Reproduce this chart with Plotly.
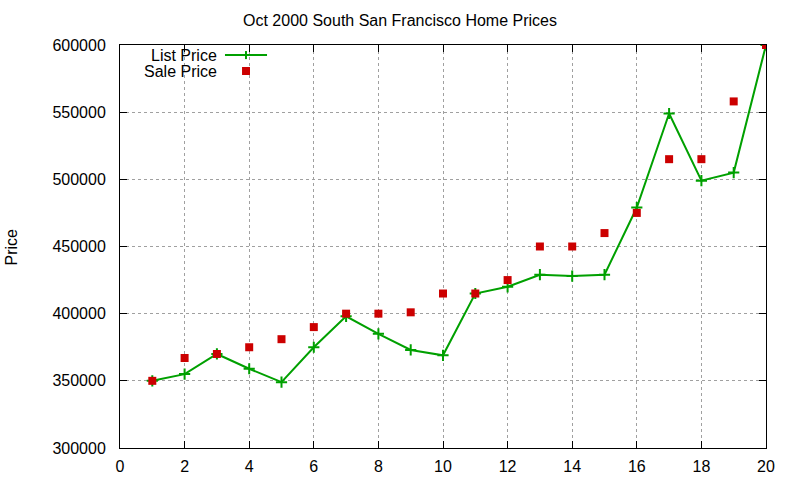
"""Oct 2000 South San Francisco home prices, list vs sale (gnuplot look)."""

import plotly.graph_objects as go

# # Data
# -----------------------------------------------------|
house = list(range(1, 21))
list_price = [350000, 355000, 370000, 359000, 349000, 375000, 398000,
              385000, 373000, 369000, 415000, 420000, 429000, 428000,
              429000, 479000, 549000, 499000, 505000, 600000]
sale_price = [350000, 367000, 370000, 375000, 381000, 390000, 400000,
              400000, 401000, 415000, 415000, 425000, 450000, 450000,
              460000, 475000, 515000, 515000, 558000, 600000]
x_ticks = list(range(0, 21, 2))
y_ticks = list(range(300000, 600001, 50000))

GREEN = "#00a000"
RED = "#cc0000"
FONT = "Liberation Sans, Arial, sans-serif"

# # Figure
# -----------------------------------------------------|
fig = go.Figure()
fig.add_trace(go.Scatter(
    x=house, y=list_price, mode="lines+markers", name="List Price",
    line=dict(color=GREEN, width=2),
    marker=dict(symbol="cross-thin", size=8,
                line=dict(color=GREEN, width=2)),
    showlegend=False,
))
fig.add_trace(go.Scatter(
    x=house, y=sale_price, mode="markers", name="Sale Price",
    marker=dict(symbol="square", size=8, color=RED),
    showlegend=False,
))

axis_common = dict(
    showline=True, linecolor="black", linewidth=1, mirror="allticks",
    ticks="inside", ticklen=7, tickcolor="black", automargin=False,
    showgrid=True, gridcolor="#a0a0a0", griddash="dot", gridwidth=1,
    zeroline=False, tickfont=dict(size=16, color="black", family=FONT),
)
fig.update_xaxes(range=[0, 20], tickvals=x_ticks, ticklabelstandoff=4,
                 **axis_common)
fig.update_yaxes(range=[300000, 600000], tickvals=y_ticks,
                 tickformat="d", ticklabelstandoff=10, **axis_common)

# y label, placed by hand as gnuplot does
fig.add_annotation(xref="paper", yref="paper", x=-0.1672, y=0.5,
                   text="Price", textangle=-90, showarrow=False,
                   xanchor="center", yanchor="middle",
                   font=dict(size=16, family=FONT, color="black"))

# gnuplot style key: text on the left, sample on the right
legend_rows = [("List Price", 0.975), ("Sale Price", 0.9355)]
for label, yy in legend_rows:
    fig.add_annotation(xref="paper", yref="paper", x=0.153, y=yy,
                       text=label, showarrow=False, xanchor="right",
                       yanchor="middle", height=16,
                       font=dict(size=16, family=FONT, color="black"))
fig.add_shape(type="line", xref="paper", yref="paper",
              x0=0.1625, x1=0.2276, y0=0.975, y1=0.975,
              line=dict(color=GREEN, width=2))
fig.add_shape(type="line", xref="paper", yref="paper",
              x0=0.195, x1=0.195, y0=0.965, y1=0.985,
              line=dict(color=GREEN, width=2))
fig.add_shape(type="rect", xref="paper", yref="paper",
              x0=0.1889, x1=0.2012, y0=0.9256, y1=0.9454,
              line=dict(width=0), fillcolor=RED)

fig.update_layout(
    width=800, height=480,
    margin=dict(l=120, r=34, t=45, b=32),
    paper_bgcolor="white", plot_bgcolor="white",
    font=dict(family=FONT, size=16, color="black"),
    title=dict(text="Oct 2000 South San Francisco Home Prices",
               x=0.5, xanchor="center", y=0.958, yanchor="middle",
               font=dict(size=16, family=FONT)),
)

# drop the default body margin so the figure sits at the page corner
fig.write_html("out.html", config={"displayModeBar": False},
               post_script="document.body.style.margin='0';")
